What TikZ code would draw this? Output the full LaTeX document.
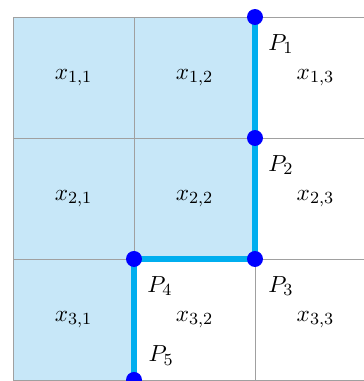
\documentclass[tikz,border=0pt]{standalone}
\usetikzlibrary{calc}
\definecolor{cellfill}{HTML}{C7E7F8}
\definecolor{pathcyan}{HTML}{00AEEF}
\definecolor{gridgray}{HTML}{A0A0A0}
\tikzset{
  gridline/.style={draw=gridgray, line width=0.4pt},
  pathline/.style={draw=pathcyan, line width=2.4pt},
  dotmark/.style={fill=blue},
  celllabel/.style={inner sep=0pt, font=\fontsize{11}{13}\selectfont},
  plabel/.style={inner sep=0pt, font=\fontsize{11}{13}\selectfont}
}
\begin{document}
\begin{tikzpicture}
\useasboundingbox (-0.215,-0.017) rectangle (5.802,6.281);
\clip (-0.215,-0.017) rectangle (5.802,6.281);
% shaded cells
\fill[cellfill] (0,0) rectangle (2,2);
\fill[cellfill] (0,2) rectangle (4,6);
% grid
\draw[gridline] (0,0) grid[step=2] (6,6);
% cell labels
\foreach \r/\y in {1/5,2/3,3/1}{
  \foreach \c/\x in {1/1,2/3,3/5}{
    \node[celllabel] (x\r\c) at (\x,\y) {$x_{\r,\c}$};
  }
}
% path points
\coordinate (p1) at (4,6);
\coordinate (p2) at (4,4);
\coordinate (p3) at (4,2);
\coordinate (p4) at (2,2);
\coordinate (p5) at (2,0);
\draw[pathline] (p1) -- (p2) -- (p3) -- (p4) -- (p5);
\foreach \p in {p1,p2,p3,p4,p5}{
  \fill[dotmark] (\p) circle (0.132);
}
% point labels
\node[plabel] (l1) at ($(p1)+(0.43,-0.45)$) {$P_1$};
\node[plabel] (l2) at ($(p2)+(0.43,-0.45)$) {$P_2$};
\node[plabel] (l3) at ($(p3)+(0.43,-0.45)$) {$P_3$};
\node[plabel] (l4) at ($(p4)+(0.43,-0.45)$) {$P_4$};
\node[plabel] (l5) at ($(p5)+(0.45,0.40)$) {$P_5$};
\end{tikzpicture}
\end{document}
